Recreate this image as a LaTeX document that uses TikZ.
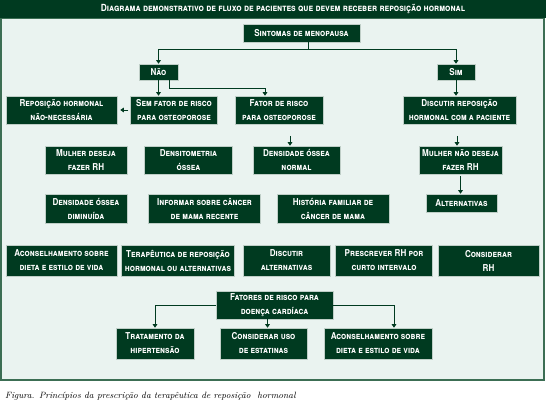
\documentclass[tikz,border=0pt]{standalone}
\usepackage{fontspec}
\newfontfamily\boxfont[FakeStretch=0.85]{TeX Gyre Heros}
\usepackage{tikz}
\usetikzlibrary{positioning,arrows.meta}
\definecolor{dkgreen}{RGB}{0,58,32}
\definecolor{paleg}{RGB}{234,243,240}
\definecolor{frameg}{RGB}{60,110,84}

\begin{document}
\begin{tikzpicture}[x=1pt, y=-1pt,
  flowbox/.style={rectangle, draw=white!75!dkgreen, line width=0.5pt, fill=dkgreen, text=white, align=center, inner sep=1pt, minimum height=28pt, font=\boxfont\fontsize{9.5}{14}\selectfont\bfseries\scshape},
  arrow/.style={-{Triangle[length=3.5pt,width=4.5pt]}, draw=dkgreen, line width=0.8pt},
  link/.style={draw=dkgreen, line width=0.8pt}
  ]
  \useasboundingbox (0,0) rectangle (546,411);
  \fill[paleg] (1,18) rectangle (544,380);
  \draw[frameg, line width=1.2pt] (1,18) rectangle (544,380);
  \fill[dkgreen] (0,0) rectangle (546,18);
  \node[text=white, font=\boxfont\fontsize{9.8}{10}\selectfont\bfseries\scshape] (title) at (283,9.5) {Diagrama demonstrativo de fluxo de pacientes que devem receber reposição hormonal};

  \node[flowbox, minimum width=117pt, minimum height=18pt] (Sint) at (301.5,33) {Sintomas de menopausa};
  \node[flowbox, minimum width=39pt, minimum height=16pt] (Nao) at (158.5,72) {Não};
  \node[flowbox, minimum width=38pt, minimum height=16pt] (Sim) at (456,72) {Sim};

  \node[flowbox, minimum width=111pt] (Rep) at (61.5,110) {Reposição hormonal\\não-necessária};
  \node[flowbox, minimum width=87pt, right=13pt of Rep] (Sem) {Sem fator de risco\\para osteoporose};
  \node[flowbox, minimum width=88pt, right=17pt of Sem] (Fator) {Fator de risco\\para osteoporose};
  \node[flowbox, minimum width=113pt] (Disc) at (459.5,110) {Discutir reposição\\hormonal com a paciente};

  \node[flowbox, minimum width=82pt] (MulherSim) at (86,160) {Mulher deseja\\fazer RH};
  \node[flowbox, minimum width=88pt, right=17pt of MulherSim] (Densit) {Densitometria\\óssea};
  \node[flowbox, minimum width=87pt, right=20pt of Densit] (DensNorm) {Densidade óssea\\normal};
  \node[flowbox, minimum width=83pt] (MulherNao) at (460.5,160) {Mulher não deseja\\fazer RH};

  \node[flowbox, minimum width=82pt, minimum height=29pt] (DensDim) at (86,208.5) {Densidade óssea\\diminuída};
  \node[flowbox, minimum width=112pt, minimum height=29pt, right=21pt of DensDim] (Informar) {Informar sobre câncer\\de mama recente};
  \node[flowbox, minimum width=112pt, minimum height=29pt, right=16pt of Informar] (Hist) {História familiar de\\câncer de mama};
  \node[flowbox, minimum width=71pt, minimum height=18pt] (Alt) at (461.5,203) {Alternativas};

  \node[flowbox, minimum width=111pt, minimum height=31pt] (Acons) at (61.5,260.5) {Aconselhamento sobre\\dieta e estilo de vida};
  \node[flowbox, minimum width=113pt, minimum height=31pt, right=4pt of Acons] (Terap) {Terapêutica de reposição\\hormonal ou alternativas};
  \node[flowbox, minimum width=87pt, minimum height=31pt, right=8pt of Terap] (DiscAlt) {Discutir\\alternativas};
  \node[flowbox, minimum width=97pt, minimum height=31pt, right=5pt of DiscAlt] (Prescr) {Prescrever RH por\\curto intervalo};
  \node[flowbox, minimum width=101pt, minimum height=31pt, right=5pt of Prescr] (ConsRH) {Considerar\\RH};

  \node[flowbox, minimum width=117pt] (Fatores) at (274.5,305) {Fatores de risco para\\doença cardíaca};
  \node[flowbox, minimum width=78pt, minimum height=31pt] (Trat) at (155,343.5) {Tratamento da\\hipertensão};
  \node[flowbox, minimum width=87pt, minimum height=31pt] (Estat) at (263.5,343.5) {Considerar uso\\de estatinas};
  \node[flowbox, minimum width=108pt, minimum height=31pt] (AconsCard) at (378,343.5) {Aconselhamento sobre\\dieta e estilo de vida};

  \node[anchor=base west, inner sep=0pt, font=\fontsize{9.1}{11}\selectfont\itshape] (caption) at (5,399) {Figura. Princípios da prescrição da terapêutica de reposição\ \ hormonal};

  \coordinate (split) at (308,49);
  \draw[link] (split |- Sint.south) -- (split);
  \draw[arrow] (split) -| (Nao.north);
  \draw[arrow] (split) -| (Sim.north);
  \draw[arrow] (Nao.south) -- (Nao.south |- Sem.north);
  \draw[arrow] ([xshift=11pt]Nao.south) -- ++(0,8) -| ([xshift=-14pt]Fator.north);
  \draw[arrow, shorten <=2pt, shorten >=3pt] (Sem.west) -- (Rep.east);
  \coordinate (fdown) at (290,136);
  \draw[arrow] (fdown) -- (fdown |- DensNorm.north);
  \draw[arrow] (Sim.south) -- (Sim.south |- Disc.north);
  \coordinate (ddown) at (457,136);
  \draw[arrow] (ddown) -- (ddown |- MulherNao.north);
  \draw[arrow, shorten <=2pt] (MulherNao.south) -- (MulherNao.south |- Alt.north);
  \draw[arrow] (Fatores.west) -| (Trat.north);
  \draw[arrow] (Fatores.east) -| ([xshift=16pt]AconsCard.north);
  \draw[arrow] ([xshift=4pt]Estat.north |- Fatores.south) -- ([xshift=4pt]Estat.north);
\end{tikzpicture}
\end{document}
